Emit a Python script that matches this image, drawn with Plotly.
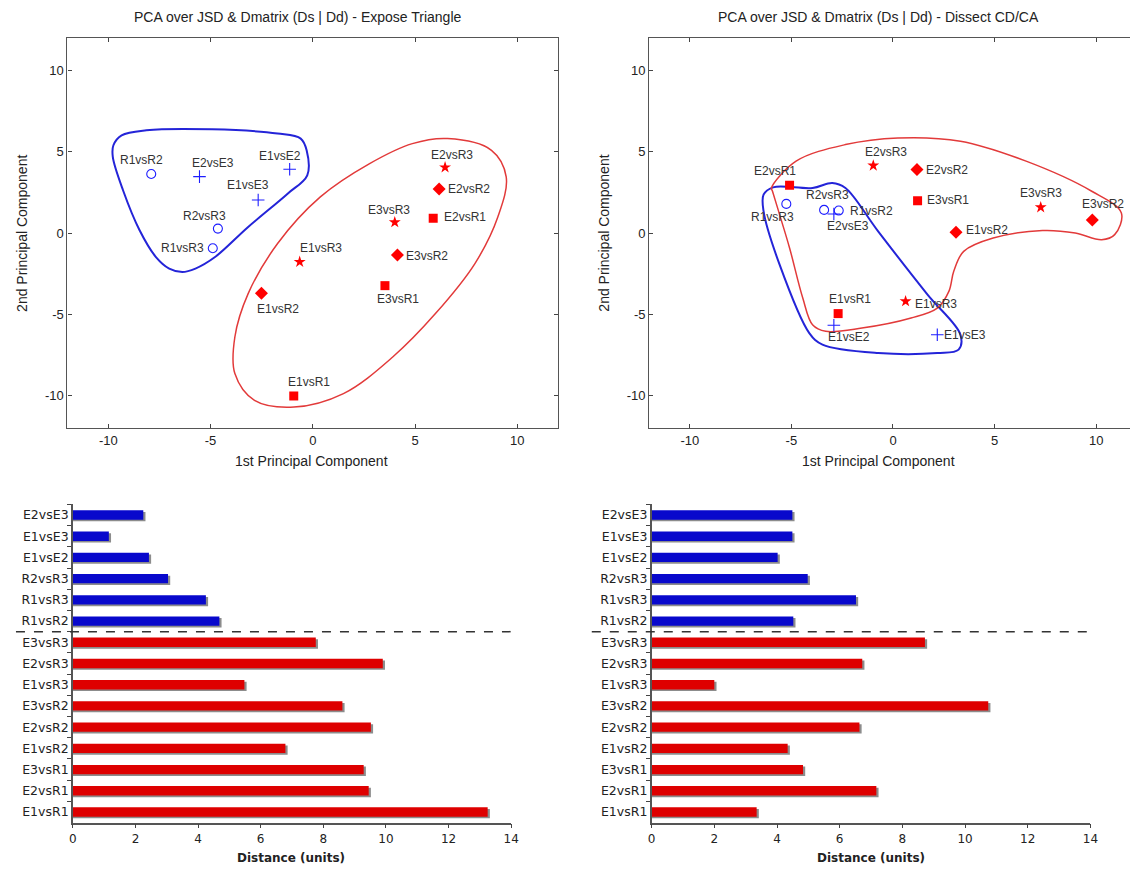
import plotly.graph_objects as go

W, H = 1138, 869
OFF = 8  # page body margin of the browser

# ---------------- PCA scatter data ----------------
names = ["R1vsR2", "E2vsE3", "E1vsE2", "E1vsE3", "R2vsR3", "R1vsR3",
         "E2vsR3", "E2vsR2", "E2vsR1", "E3vsR3", "E3vsR2", "E3vsR1",
         "E1vsR3", "E1vsR2", "E1vsR1"]

# Expose Triangle
left_pc1 = [-7.9, -5.54, -1.13, -2.67, -4.64, -4.89,
            6.47, 6.18, 5.89, 4.01, 4.14, 3.53,
            -0.64, -2.51, -0.93]
left_pc2 = [3.63, 3.47, 3.92, 2.03, 0.27, -0.94,
            4.04, 2.71, 0.90, 0.66, -1.35, -3.24,
            -1.78, -3.71, -10.03]

# Dissect CD/CA
right_pc1 = [-2.67, -2.91, -2.91, 2.18, -3.39, -5.25,
             -0.97, 1.18, -5.09, 7.27, 9.81, 1.21,
             0.62, 3.10, -2.70]
right_pc2 = [1.38, 1.17, -5.68, -6.26, 1.42, 1.79,
             4.15, 3.90, 2.94, 1.58, 0.80, 1.99,
             -4.20, 0.04, -4.96]

pc_ticks = [-10, -5, 0, 5, 10]
pc_tick_labels = ["-10", "-5", "0", "5", "10"]

# hand-drawn group outlines
left_blue_x = [-9.75, -9.35, -8.14, -4.93, -1.72, -0.59, -0.30, -0.27, -1.23, -3.16,
               -4.78, -5.74, -6.38, -7.02, -7.67, -8.47, -9.28, -9.78]
left_blue_y = [5.40, 6.01, 6.32, 6.38, 6.12, 5.81, 5.09, 3.55, 2.42, 0.37,
               -1.48, -2.19, -2.40, -2.19, -1.48, 0.17, 2.63, 4.68]
left_red_x = [6.59, 8.74, 9.46, 9.05, 7.93, 6.00, 3.91, 1.50, -0.92, -2.85,
              -3.81, -3.81, -3.16, -1.72, 0.37, 2.78, 4.87]
left_red_y = [5.81, 5.09, 3.45, 0.98, -1.88, -4.96, -7.63, -9.88, -10.71, -10.30,
              -8.65, -6.40, -3.73, -0.65, 2.22, 4.27, 5.50]

right_blue_x = [-5.90, -3.96, -2.99, -2.34, -0.73, 1.70, 3.32, 3.23, 2.18, -0.73,
                -3.47, -4.12, -5.58, -6.37, -6.37]
right_blue_y = [2.81, 2.77, 3.08, 2.77, 0.10, -3.79, -6.26, -7.18, -7.39, -7.39,
                -6.87, -6.16, -1.95, 1.34, 2.36]
right_red_x = [-5.98, -4.77, -2.34, 0.24, 3.32, 6.55, 9.78, 11.24, 10.91, 10.27,
               8.97, 7.36, 4.93, 3.48, 2.99, 2.75, 2.18, 0.89, -1.53, -3.31,
               -3.96, -4.44, -5.09, -5.58, -5.93]
right_red_y = [2.77, 4.42, 5.44, 5.85, 5.65, 4.42, 2.57, 1.23, -0.10, -0.41,
               0.00, 0.15, -0.31, -1.13, -2.36, -3.59, -4.62, -5.23, -5.85, -6.05,
               -5.64, -4.00, -0.92, 1.13, 2.57]

# ---------------- distance bars ----------------
bar_categories = ["E2vsE3", "E1vsE3", "E1vsE2", "R2vsR3", "R1vsR3", "R1vsR2",
                  "E3vsR3", "E2vsR3", "E1vsR3", "E3vsR2", "E2vsR2", "E1vsR2",
                  "E3vsR1", "E2vsR1", "E1vsR1"]
left_distance = [2.25, 1.15, 2.43, 3.04, 4.25, 4.68,
                 7.76, 9.90, 5.48, 8.61, 9.52, 6.79,
                 9.29, 9.45, 13.25]
right_distance = [4.49, 4.49, 4.02, 4.98, 6.52, 4.52,
                  8.72, 6.72, 2.00, 10.74, 6.63, 4.34,
                  4.83, 7.17, 3.35]
x_ticks = [0, 2, 4, 6, 8, 10, 12, 14]

# ---------------- styling helpers ----------------
RED = "#FF0000"
BLUE = "#1E1EFF"
BAR_RED = "#DE0000"
BAR_BLUE = "#0808CC"
SANS = "Liberation Sans, Arial, sans-serif"
VERD = "DejaVu Sans, Verdana, sans-serif"

FW, FH = W - OFF, H - OFF  # figure size inside the page margin


def symbol_of(n):
    if n.startswith("R"):
        return "circle-open"
    if n[4] == "E":
        return "cross-thin-open"
    return {"1": "square", "2": "diamond", "3": "star"}[n[5]]


def color_of(n):
    return BLUE if (n.startswith("R") or n[4] == "E") else RED


def size_of(n):
    return {"circle-open": 9, "cross-thin-open": 9, "square": 9,
            "diamond": 10, "star": 9}[symbol_of(n)]


def px_x(p):
    return (p - OFF) / FW


def px_y(p):
    return 1 - (p - OFF) / FH


# label offsets in px (dx right, dy up)
left_off = {"R1vsR2": (-10, 14), "E2vsE3": (14, 14), "E1vsE2": (-10, 13),
            "E1vsE3": (-10, 15), "R2vsR3": (-13, 13), "R1vsR3": (-30, 0),
            "E2vsR3": (7, 12), "E2vsR2": (30, 0), "E2vsR1": (32, 1),
            "E3vsR3": (-6, 12), "E3vsR2": (30, -1), "E3vsR1": (13, -13),
            "E1vsR3": (21, 14), "E1vsR2": (17, -16), "E1vsR1": (15, 14)}
right_off = {"E2vsR1": (-15, 14), "R1vsR3": (-14, -13), "R2vsR3": (3, 15),
             "R1vsR2": (33, 0), "E2vsE3": (14, -12), "E2vsR3": (13, 14),
             "E2vsR2": (30, 0), "E3vsR1": (30, 1), "E3vsR3": (0, 14),
             "E3vsR2": (11, 16), "E1vsR2": (31, 2), "E1vsR1": (12, 15),
             "E1vsR3": (30, -3), "E1vsE2": (15, -12), "E1vsE3": (28, 0)}

fig = go.Figure()
annotations = []

# ---------------- scatter panels ----------------
panels = [
    ("x", "y", left_pc1, left_pc2, left_off,
     [(left_blue_x, left_blue_y, "#2424D8", 2.0), (left_red_x, left_red_y, "#E23A3A", 1.5)]),
    ("x2", "y2", right_pc1, right_pc2, right_off,
     [(right_blue_x, right_blue_y, "#2424D8", 2.0), (right_red_x, right_red_y, "#E23A3A", 1.5)]),
]

for xa, ya, px_, py_, offs, outlines in panels:
    for ox, oy, col, w in outlines:
        fig.add_trace(go.Scatter(x=ox + ox[:1], y=oy + oy[:1], mode="lines",
                                 line=dict(color=col, width=w, shape="spline", smoothing=1.0),
                                 xaxis=xa, yaxis=ya, hoverinfo="skip", showlegend=False))
    for i, n in enumerate(names):
        sym = symbol_of(n)
        fig.add_trace(go.Scatter(
            x=[px_[i]], y=[py_[i]], mode="markers", xaxis=xa, yaxis=ya, showlegend=False,
            marker=dict(symbol=sym, size=size_of(n), color=color_of(n),
                        line=dict(color=color_of(n), width=1.1 if "open" in sym else 0))))
        dx, dy = offs[n]
        annotations.append(dict(x=px_[i], y=py_[i], xref=xa, yref=ya, text=n,
                                showarrow=False, xshift=dx, yshift=dy,
                                font=dict(family=SANS, size=12, color="#333333")))

# ---------------- bar panels ----------------
bar_colors = [BAR_BLUE] * 6 + [BAR_RED] * 9
for xa, ya, vals in [("x3", "y3", left_distance), ("x4", "y4", right_distance)]:
    fig.add_trace(go.Bar(y=bar_categories, x=[v + 0.07 for v in vals], orientation="h",
                         marker=dict(color="#8C8C8C", line=dict(width=0)),
                         width=0.44, offset=-0.14, xaxis=xa, yaxis=ya,
                         showlegend=False, hoverinfo="skip"))
    fig.add_trace(go.Bar(y=bar_categories, x=vals, orientation="h",
                         marker=dict(color=bar_colors, line=dict(width=0)),
                         width=0.44, offset=-0.22, xaxis=xa, yaxis=ya, showlegend=False))

# ---------------- layout ----------------
sc_x = dict(range=[-12, 12], tickvals=pc_ticks, ticktext=pc_tick_labels,
            ticks="inside", ticklen=4,
            showline=True, linecolor="#555555", linewidth=1.2, mirror="ticks",
            showgrid=False, zeroline=False,
            tickfont=dict(family=SANS, size=13, color="#222222"))
sc_y = dict(sc_x)

TL = (64, 560, 38, 428)
TR = (652, W, 38, 428)
BL = (69.5, 512.5, 504.4, 822.6)
BR = (654.5, 1098, 504.4, 822.6)

layout = dict(
    width=FW, height=FH, margin=dict(l=0, r=0, t=0, b=0),
    paper_bgcolor="white", plot_bgcolor="white", barmode="overlay",
    xaxis=dict(sc_x, domain=[px_x(TL[0]), px_x(TL[1])], anchor="y"),
    yaxis=dict(sc_y, domain=[px_y(TL[3]), px_y(TL[2])], anchor="x"),
    xaxis2=dict(sc_x, range=[-12, 12 - (898.3 + 12 * 20.55 - W) / 20.55],
                domain=[px_x(TR[0]), 1.0], anchor="y2"),
    yaxis2=dict(sc_y, domain=[px_y(TR[3]), px_y(TR[2])], anchor="x2", mirror=False),
)

bar_x = dict(range=[0, 14], tickvals=x_ticks, ticks="outside", ticklen=4,
             showline=True, linecolor="#555555", linewidth=1.5, showgrid=False,
             zeroline=False, tickfont=dict(family=VERD, size=12, color="#222222"))
bar_y = dict(categoryorder="array", categoryarray=bar_categories, range=[14.5, -0.5],
             ticks="outside", tickson="boundaries", ticklen=4, showline=True,
             linecolor="#555555", linewidth=1.5, showgrid=False,
             tickfont=dict(family=VERD, size=12.5, color="#222222"))
layout["xaxis3"] = dict(bar_x, domain=[px_x(BL[0]), px_x(BL[1])], anchor="y3")
layout["yaxis3"] = dict(bar_y, domain=[px_y(BL[3]), px_y(BL[2])], anchor="x3")
layout["xaxis4"] = dict(bar_x, domain=[px_x(BR[0]), px_x(BR[1])], anchor="y4")
layout["yaxis4"] = dict(bar_y, domain=[px_y(BR[3]), px_y(BR[2])], anchor="x4")


# titles and axis titles
def txt(x, y, s, size=12, fam=SANS, bold=False, angle=0):
    annotations.append(dict(x=px_x(x), y=px_y(y), xref="paper", yref="paper",
                            text=f"<b>{s}</b>" if bold else s, showarrow=False,
                            textangle=angle, xanchor="center", yanchor="middle",
                            font=dict(family=fam, size=size, color="#222222")))


txt(297, 17, "PCA over JSD &amp; Dmatrix (Ds | Dd) - Expose Triangle", size=14)
txt(884, 17, "PCA over JSD &amp; Dmatrix (Ds | Dd) - Dissect CD/CA", size=14)
txt(311, 461, "1st Principal Component", size=14)
txt(884, 461, "1st Principal Component", size=14)
txt(18, 233, "2nd Principal Component", size=14, angle=-90)
txt(606, 233, "2nd Principal Component", size=14, angle=-90)
txt(290, 858, "Distance (units)", size=12, fam=VERD, bold=True)
txt(876, 858, "Distance (units)", size=12, fam=VERD, bold=True)

row_h = (BL[3] - BL[2]) / len(bar_categories)
div_y = BL[2] + 6 * row_h
shapes = [
    dict(type="line", xref="paper", yref="paper", x0=px_x(12), x1=px_x(512),
         y0=px_y(div_y), y1=px_y(div_y), line=dict(color="#333333", width=1.5, dash="dash")),
    dict(type="line", xref="paper", yref="paper", x0=px_x(594), x1=px_x(1100),
         y0=px_y(div_y), y1=px_y(div_y), line=dict(color="#333333", width=1.5, dash="dash")),
]

layout["annotations"] = annotations
layout["shapes"] = shapes
fig.update_layout(**layout)
fig.write_html("out.html")
